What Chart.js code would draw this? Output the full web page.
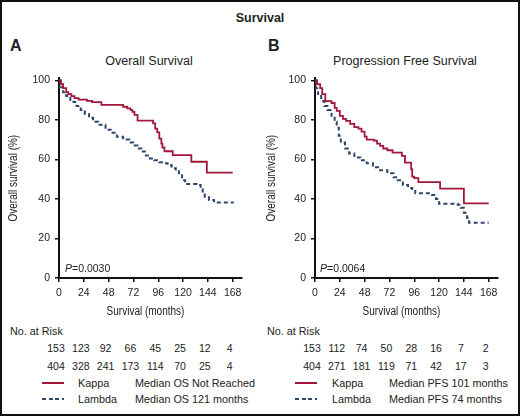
<!DOCTYPE html>
<html>
<head>
<meta charset="utf-8">
<script src="https://cdn.jsdelivr.net/npm/chart.js@4.4.1/dist/chart.umd.min.js"></script>
<style>
  body { margin: 0; background: #fff; font-family: 'Liberation Sans', Arial, sans-serif; color: #222; }
  #page { position: relative; width: 520px; height: 416px; overflow: hidden; background: #fff; }
  #frame { position: absolute; left: 0; top: 0; width: 520px; height: 416px; box-sizing: border-box; border: 2px solid #111; pointer-events: none; z-index: 5; }
  .t { position: absolute; white-space: nowrap; line-height: 1; }
  .c { transform: translateX(-50%); }
  canvas { position: absolute; top: 67px; }
  .leg { position: absolute; width: 22px; height: 2px; }
</style>
</head>
<body>
<div id="page">
  <div id="frame"></div>
  <div class="t c" style="left:260px; top:12px; font-size:12.5px; font-weight:bold;">Survival</div>
  <div class="t" style="left:10px; top:38px; font-size:16px; font-weight:bold;">A</div>
  <div class="t" style="left:268px; top:38px; font-size:16px; font-weight:bold;">B</div>
  <div class="t c" style="left:149px; top:55px; font-size:12.5px;">Overall Survival</div>
  <div class="t c" style="left:405px; top:55px; font-size:12.5px;">Progression Free Survival</div>
  <canvas id="chartA" width="260" height="253" style="left:0px;"></canvas>
  <canvas id="chartB" width="260" height="253" style="left:260px;"></canvas>
  <div class="t" style="left:65px; top:263px; font-size:10.5px;"><i>P</i>=0.0030</div>
  <div class="t" style="left:320px; top:263px; font-size:10.5px;"><i>P</i>=0.0064</div>
  <div id="table"></div>
</div>
<script>
// tick labels
const xTicks = [0, 24, 48, 72, 96, 120, 144, 168];
const yTicks = [0, 20, 40, 60, 80, 100];

// Overall survival (A)
const osKappaMonths = [0, 2, 4, 7, 9, 12, 15, 19, 27, 32, 41, 62, 66, 69, 71, 73, 76, 91, 93, 95, 97, 99, 100, 102, 110, 128, 143, 168];
const osKappa = [100, 98, 96, 94, 93, 92, 91, 90.2, 89.6, 89, 87.6, 86.6, 85.8, 85, 84, 82.5, 79.6, 78.2, 75.5, 73.7, 70.5, 68, 66, 64.1, 62.1, 58.8, 53.3, 53.3];
const osLambdaMonths = [0, 1, 4, 7, 11, 14, 17, 21, 25, 29, 33, 38, 45, 50, 56, 62, 68, 72, 76, 80, 84, 88, 92, 97, 101, 105, 109, 113, 116, 119, 122, 133, 137, 139, 141, 145, 150, 169];
const osLambda = [100, 96.5, 94, 92, 90, 89, 87, 85, 83, 81, 79, 77.5, 75, 73.5, 71.5, 70, 68.5, 67, 65.5, 64, 62, 60.5, 59.5, 58.5, 58, 57, 55.5, 54, 52, 49.5, 47.5, 47, 45.5, 43, 41, 39.5, 38.2, 38.2];

// Progression free survival (B)
const pfsKappaMonths = [0, 2, 5, 7, 10, 16, 19, 21, 24, 27, 30, 34, 38, 42, 45, 48, 50, 57, 60, 63, 66, 70, 75, 84, 87, 93, 94, 96, 100, 121, 144, 168];
const pfsKappa = [100, 98, 96, 93, 89.5, 88.5, 86, 84.5, 82, 80.5, 79.5, 78, 76.3, 75.5, 74, 71.5, 70, 69.5, 68, 66.8, 65.5, 64.6, 63.4, 61.8, 58.4, 55, 51.3, 50.5, 48.5, 45.2, 37.7, 37.7];
const pfsLambdaMonths = [0, 1, 3, 6, 9, 12, 16, 19, 21, 23, 25, 29, 33, 38, 44, 50, 56, 63, 70, 76, 80, 85, 90, 94, 97, 113, 117, 120, 138, 141, 144, 147, 149, 168];
const pfsLambda = [100, 96, 93, 89.5, 87, 85, 82, 79, 76, 72, 68.5, 65.5, 63, 61, 59.5, 58, 56, 54.5, 53, 51, 49.5, 47, 45.5, 44, 42.8, 42, 40, 37.5, 37, 35.5, 33, 30.5, 28, 28];

// numbers at risk
const osRiskKappa = [153, 123, 92, 66, 45, 25, 12, 4];
const osRiskLambda = [404, 328, 241, 173, 114, 70, 25, 4];
const pfsRiskKappa = [153, 112, 74, 50, 28, 16, 7, 2];
const pfsRiskLambda = [404, 271, 181, 119, 71, 42, 17, 3];

const kappaColor = '#a3173b';
const lambdaColor = '#2d4768';
const tickFont = { family: "'Liberation Sans', Arial, sans-serif", size: 10.5 };

function toPoints(xs, ys) {
  return xs.map((x, i) => ({ x: x, y: ys[i] }));
}

// axis titles in a narrow face, squeezed horizontally
const narrowTitles = {
  id: 'narrowTitles',
  afterDraw(chart, args, opts) {
    const ctx = chart.ctx;
    const area = chart.chartArea;
    ctx.save();
    ctx.fillStyle = '#222';
    ctx.font = "12.5px 'Liberation Sans', Arial, sans-serif";
    ctx.textAlign = 'center';
    ctx.textBaseline = 'middle';
    ctx.save();
    ctx.translate((area.left + area.right) / 2 - 5, 245);
    ctx.scale(0.8, 1);
    ctx.fillText('Survival (months)', 0, 0);
    ctx.restore();
    ctx.save();
    ctx.translate(opts.yTitleX, (area.top + area.bottom) / 2);
    ctx.rotate(-Math.PI / 2);
    ctx.scale(0.8, 1);
    ctx.fillText('Overall survival (%)', 0, 0);
    ctx.restore();
    ctx.restore();
  }
};

function makeChart(id, kx, ky, lx, ly, yWidth, padRight, yTitleX) {
  return new Chart(document.getElementById(id), {
    type: 'line',
    data: {
      datasets: [{
        label: 'Kappa',
        data: toPoints(kx, ky),
        borderColor: kappaColor,
        borderWidth: 1.8,
        stepped: 'before',
        pointRadius: 0
      }, {
        label: 'Lambda',
        data: toPoints(lx, ly),
        borderColor: lambdaColor,
        borderWidth: 2,
        borderDash: [4, 3],
        stepped: 'before',
        pointRadius: 0
      }]
    },
    plugins: [narrowTitles],
    options: {
      responsive: false,
      animation: false,
      layout: { padding: { left: 0, right: padRight, top: 0, bottom: 0 } },
      plugins: { legend: { display: false }, tooltip: { enabled: false }, narrowTitles: { yTitleX: yTitleX } },
      scales: {
        x: {
          type: 'linear',
          min: 0,
          max: 177,
          afterBuildTicks: s => { s.ticks = xTicks.map(v => ({ value: v })); },
          afterFit: s => { s.height = 42; },
          ticks: { font: tickFont, color: '#222', padding: 5, maxRotation: 0, autoSkip: false },
          grid: { drawOnChartArea: false, drawTicks: true, tickLength: 4, color: '#111', lineWidth: 1.5 },
          border: { display: true, color: '#111', width: 2 }
        },
        y: {
          min: 0,
          max: 101,
          afterBuildTicks: s => { s.ticks = yTicks.map(v => ({ value: v })); },
          afterFit: s => { s.width = yWidth; },
          ticks: { font: tickFont, color: '#222', padding: 5 },
          grid: { drawOnChartArea: false, drawTicks: true, tickLength: 4, color: '#111', lineWidth: 1.5 },
          border: { display: true, color: '#111', width: 2 }
        }
      }
    }
  });
}

const chartA = makeChart('chartA', osKappaMonths, osKappa, osLambdaMonths, osLambda, 59, 18, 14);
const chartB = makeChart('chartB', pfsKappaMonths, pfsKappa, pfsLambdaMonths, pfsLambda, 55, 22, 12);

// at-risk table and legend
const table = document.getElementById('table');
function addText(html, left, top, size, cls) {
  const d = document.createElement('div');
  d.className = 't' + (cls ? ' ' + cls : '');
  d.style.left = left + 'px';
  d.style.top = top + 'px';
  d.style.fontSize = size + 'px';
  d.innerHTML = html;
  table.appendChild(d);
}
// columns sit under the x ticks of each panel
function addRow(chart, offset, values, top) {
  const sx = chart.scales.x;
  values.forEach((v, i) => addText(String(v), offset + sx.getPixelForValue(xTicks[i]) - 3, top, 10.5, 'c'));
}
function addLegendLine(left, top, color, dashed) {
  const d = document.createElement('div');
  d.className = 'leg';
  d.style.left = left + 'px';
  d.style.top = top + 'px';
  d.style.background = dashed
    ? 'repeating-linear-gradient(90deg, ' + color + ' 0 4px, transparent 4px 6.5px)'
    : color;
  table.appendChild(d);
}

addText('No. at Risk', 10, 326, 10.8);
addRow(chartA, 0, osRiskKappa, 343);
addRow(chartA, 0, osRiskLambda, 361);
addLegendLine(42, 382, kappaColor, false);
addLegendLine(42, 398, lambdaColor, true);
addText('Kappa', 78, 378, 10.8);
addText('Lambda', 78, 394, 10.8);
addText('Median OS Not Reached', 135, 378, 10.8);
addText('Median OS 121 months', 135, 394, 10.8);

addText('No. at Risk', 267, 326, 10.8);
addRow(chartB, 260, pfsRiskKappa, 343);
addRow(chartB, 260, pfsRiskLambda, 361);
addLegendLine(295, 382, kappaColor, false);
addLegendLine(295, 398, lambdaColor, true);
addText('Kappa', 332, 378, 10.8);
addText('Lambda', 332, 394, 10.8);
addText('Median PFS 101 months', 389, 378, 10.8);
addText('Median PFS 74 months', 389, 394, 10.8);
</script>
</body>
</html>
